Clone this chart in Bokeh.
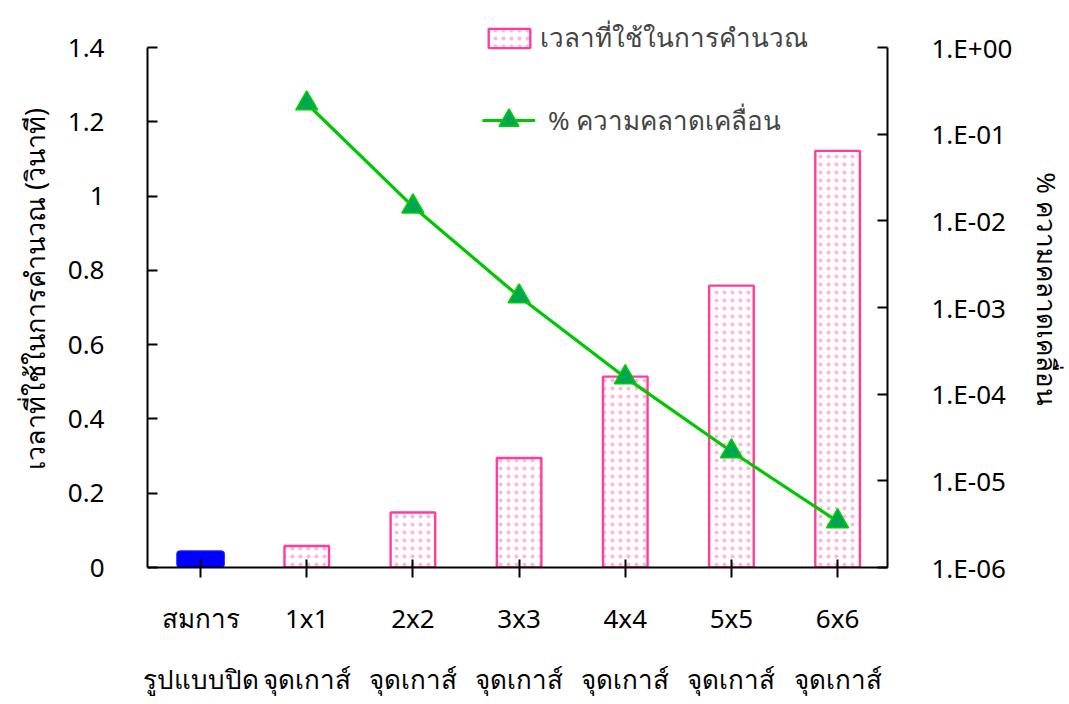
from bokeh.plotting import figure
from bokeh.models import (Range1d, LinearAxis, LogAxis, LogScale, FixedTicker,
                          Legend, LegendItem, ColumnDataSource)
from bokeh.embed import file_html
from bokeh.resources import INLINE

# category labels (two lines under each bar)
cat_line1 = ["สมการ", "1x1", "2x2", "3x3", "4x4", "5x5", "6x6"]
cat_line2 = ["รูปแบบปิด", "จุดเกาส์", "จุดเกาส์", "จุดเกาส์", "จุดเกาส์", "จุดเกาส์", "จุดเกาส์"]

# computation time (seconds)
time_closed_form = [0.045]
time_gauss = [0.058, 0.148, 0.295, 0.514, 0.759, 1.122]

# percentage error of the Gauss-point integration
error_pct = [0.226, 0.0146, 0.00134, 1.56e-4, 2.18e-5, 3.4e-6]

left_ticks = [0, 0.2, 0.4, 0.6, 0.8, 1, 1.2, 1.4]
left_tick_labels = ["0", "0.2", "0.4", "0.6", "0.8", "1", "1.2", "1.4"]
right_ticks = [1e-06, 1e-05, 1e-04, 1e-03, 1e-02, 1e-01, 1.0]
right_tick_labels = ["1.E-06", "1.E-05", "1.E-04", "1.E-03", "1.E-02", "1.E-01", "1.E+00"]

FONT = "Noto Sans"
FS = "26px"

x_all = list(range(len(cat_line1)))
x_closed = x_all[:1]
x_gauss = x_all[1:]

# the frame reaches above the last tick so the legend sits inside it;
# the axis lines themselves stop at their last tick (bounds)
p = figure(width=1069, height=704, x_range=Range1d(-0.5, 6.47), y_range=Range1d(0, 1.5),
           x_axis_type=None, y_axis_type=None, output_backend="svg", toolbar_location=None,
           min_border_left=147, min_border_right=182, min_border_top=10, min_border_bottom=137)
p.outline_line_color = None
p.background_fill_color = "white"
p.border_fill_color = "white"

p.extra_y_ranges = {"err": Range1d(1e-06, 2.673)}
p.extra_y_scales = {"err": LogScale()}

# bars
closed_src = ColumnDataSource(dict(x=x_closed, top=time_closed_form))
gauss_src = ColumnDataSource(dict(x=x_gauss, top=time_gauss))
p.vbar(x="x", top="top", width=0.45, source=closed_src, fill_color="#0000ff",
       line_color="#3030ff", line_width=1, border_radius=3)
bars = p.vbar(x="x", top="top", width=0.42, source=gauss_src, fill_color="white",
              line_color="#ff3d9a", line_width=2.4, hatch_pattern="dot",
              hatch_color="#ffb6dc", hatch_scale=8, hatch_weight=1)

# error curve on the log axis
err_src = ColumnDataSource(dict(x=x_gauss, y=error_pct))
ln = p.line(x="x", y="y", source=err_src, y_range_name="err", line_color="#00c800", line_width=3.2)
mk = p.scatter(x="x", y="y", source=err_src, y_range_name="err", marker="triangle", size=22,
               fill_color="#00a650", line_color="#00d000", line_width=1.5)

# axes
left = LinearAxis(ticker=FixedTicker(ticks=left_ticks), bounds=(0, 1.4),
                  major_label_overrides=dict(zip(left_ticks, left_tick_labels)),
                  axis_label="เวลาที่ใช้ในการคำนวณ (วินาที)")
left.major_tick_in = 10
left.major_tick_out = 0
left.major_label_standoff = 43
left.axis_label_standoff = 12
p.add_layout(left, "left")

right = LogAxis(y_range_name="err", ticker=FixedTicker(ticks=right_ticks), bounds=(1e-06, 1.0),
                major_label_overrides=dict(zip(right_ticks, right_tick_labels)),
                axis_label="% ความคลาดเคลื่อน")
right.major_tick_in = 10
right.major_tick_out = 0
right.minor_tick_line_color = None
right.major_label_standoff = 44
right.axis_label_standoff = 14
p.add_layout(right, "right")

bottom1 = LinearAxis(ticker=FixedTicker(ticks=x_all),
                     major_label_overrides=dict(zip(x_all, cat_line1)))
bottom1.major_tick_in = 8
bottom1.major_tick_out = 10
bottom1.major_label_standoff = 22
bottom1.minor_tick_line_color = None
p.add_layout(bottom1, "below")

bottom2 = LinearAxis(ticker=FixedTicker(ticks=x_all),
                     major_label_overrides=dict(zip(x_all, cat_line2)))
bottom2.minor_tick_line_color = None
bottom2.major_label_standoff = 16
p.add_layout(bottom2, "below")

for ax in (left, right, bottom1, bottom2):
    ax.axis_line_width = 2
    ax.axis_line_color = "black"
    ax.major_tick_line_width = 2
    ax.major_tick_line_color = "black"
    ax.major_label_text_font = FONT
    ax.major_label_text_font_size = FS
    ax.major_label_text_color = "black"
    ax.axis_label_text_font = FONT
    ax.axis_label_text_font_size = FS
    ax.axis_label_text_font_style = "normal"
    ax.axis_label_text_color = "black"
left.axis_label_text_font_size = "27px"
bottom2.axis_line_color = None
bottom2.major_tick_line_color = None

legend_style = dict(orientation="vertical", label_height=24,
                    padding=0, margin=0, border_line_color=None, background_fill_alpha=0,
                    label_text_font=FONT, label_text_font_size=FS)
legend_time = Legend(items=[LegendItem(label="เวลาที่ใช้ในการคำนวณ", renderers=[bars])],
                     location=(336, 509), glyph_width=52, glyph_height=24, label_standoff=5,
                     **legend_style)
# a taller glyph box gives the legend triangle the same size as on the curve
legend_err = Legend(items=[LegendItem(label="% ความคลาดเคลื่อน", renderers=[ln, mk])],
                    location=(335, 422), glyph_width=53, glyph_height=50, label_standoff=13,
                    **legend_style)
p.add_layout(legend_time, "center")
p.add_layout(legend_err, "center")

open("out.html", "w").write(file_html(p, INLINE))
